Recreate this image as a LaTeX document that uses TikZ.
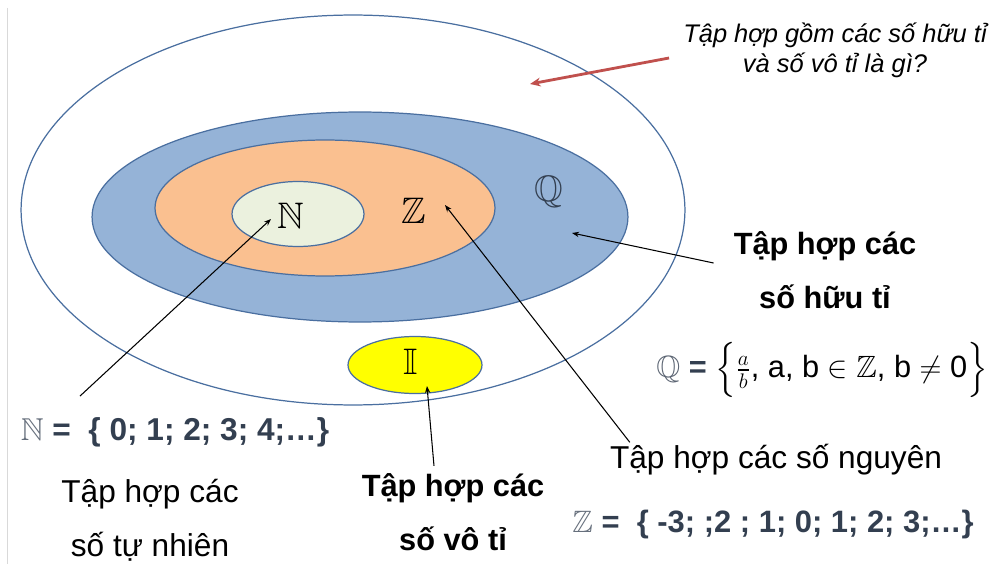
\documentclass[tikz,border=0pt]{standalone}
\usepackage{fontspec}
\setmainfont{Liberation Sans}
\usepackage{amsmath,amssymb}
\usetikzlibrary{shapes.geometric,arrows.meta,calc}
\definecolor{qblue}{HTML}{95B3D7}
\definecolor{zorange}{HTML}{FAC090}
\definecolor{ngreen}{HTML}{EBF1DE}
\definecolor{iyellow}{HTML}{FFFF00}
\definecolor{rimblue}{HTML}{4A6FA0}
\definecolor{listnavy}{HTML}{333F50}
\definecolor{askred}{HTML}{C0504D}
\begin{document}
\begin{tikzpicture}[x=0.02cm, y=-0.02cm,
  setbox/.style={ellipse, draw=rimblue, line width=0.7pt, inner sep=0pt},
  setsym/.style={font=\fontsize{21}{24}\selectfont},
  pointer/.style={-{Stealth[length=4pt,width=3pt]}, line width=0.6pt},
  title/.style={align=center, font=\fontsize{18}{31}\selectfont},
  setlist/.style={text=listnavy, font=\fontsize{18}{20}\selectfont\bfseries}]
  \useasboundingbox (0,0) rectangle (990,564);
  \draw[black!15] (7,8) -- (7,564);
  % nested sets
  \node[setbox, fill=white, minimum width=13.28cm, minimum height=7.8cm] (reals) at (353,210) {};
  \node[setbox, fill=qblue, minimum width=10.72cm, minimum height=4.2cm] (rats) at (360,217) {};
  \node[setbox, fill=zorange, minimum width=6.8cm, minimum height=2.72cm] (ints) at (325,208) {};
  \node[setbox, fill=ngreen, minimum width=2.64cm, minimum height=1.3cm] (nats) at (298,214) {};
  \node[setbox, fill=iyellow, minimum width=2.68cm, minimum height=1.14cm] (irrs) at (415,365) {};
  \node[setsym] (nsym) at (291,216) {$\mathbb{N}$};
  \node[setsym] (zsym) at (414,211) {$\mathbb{Z}$};
  \node[setsym, text=listnavy] (qsym) at (549,192) {$\mathbb{Q}$};
  \node[setsym] (isym) at (411,362) {$\mathbb{I}$};
  \coordinate (ntip) at (271,219);
  \coordinate (ztip) at (445,205);
  \coordinate (qtip) at (572,233);
  \coordinate (itip) at (427,386);
  % texts
  \node[align=center, font=\fontsize{14.5}{17}\selectfont\itshape] (question) at (835,50)
    {Tập hợp gồm các số hữu tỉ\\và số vô tỉ là gì?};
  \node[title, font=\fontsize{17.5}{31}\selectfont\bfseries] (qtitle) at (825,270) {Tập hợp các\\số hữu tỉ};
  \node[font=\fontsize{17.5}{20}\selectfont] (qform) at (822,370)
    {{\color{listnavy!80}$\mathbb{Q}$} \textbf{\color{listnavy}=} $\Bigl\{\frac{a}{b}$, a, b $\in \mathbb{Z}$, b $\neq$ 0$\Bigr\}$};
  \node[setlist] (nset) at (175,432) {{\color{listnavy!75}$\mathbb{N}$} =\ \ \{ 0; 1; 2; 3; 4;\dots\}};
  \node[title] (ntitle) at (150,520) {Tập hợp các\\số tự nhiên};
  \node[title, font=\fontsize{17.5}{31}\selectfont\bfseries] (ititle) at (453,512) {Tập hợp các\\số vô tỉ};
  \node[font=\fontsize{18}{20}\selectfont] (ztitle) at (776,460) {Tập hợp các số nguyên};
  \node[setlist, font=\fontsize{17.6}{20}\selectfont\bfseries] (zset) at (773,525) {{\color{listnavy!75}$\mathbb{Z}$} =\ \ \{ -3; ;2 ; 1; 0; 1; 2; 3;\dots\}};
  % pointers
  \draw[pointer] ($(nset.north)+(-95,-15)$) -- (ntip);
  \draw[pointer] ($(ztitle.north west)+(26,4)$) -- (ztip);
  \draw[pointer] ($(qtitle.west)+(-14,-7)$) -- (qtip);
  \draw[pointer] ($(ititle.north)+(-19,-1)$) -- (itip);
  \draw[askred, line width=1.6pt, -{Stealth[length=6pt,width=5pt]}] ($(question.west)+(-8,8)$) -- (530,84);
\end{tikzpicture}
\end{document}
